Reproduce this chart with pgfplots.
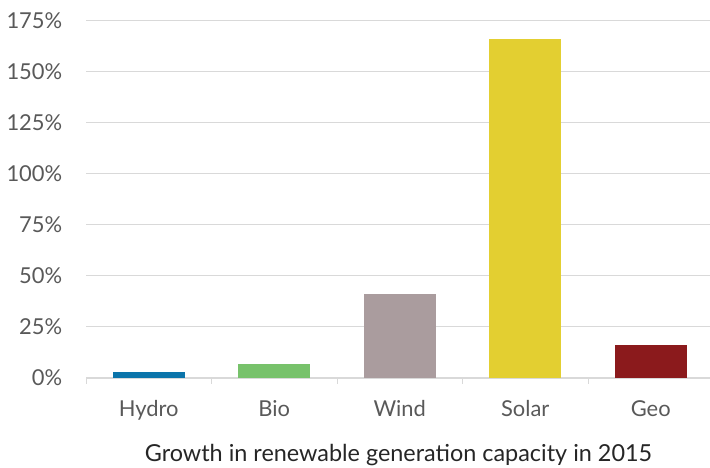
\documentclass[border=0pt]{standalone}
\usepackage{pgfplots}
\pgfplotsset{compat=1.18}
\usepackage{fontspec}
\setmainfont{Lato}
\definecolor{hydro}{HTML}{0B74AA}
\definecolor{bio}{HTML}{77C26B}
\definecolor{wind}{HTML}{AA9C9E}
\definecolor{solar}{HTML}{E3CF31}
\definecolor{geo}{HTML}{8B1A1C}
\definecolor{gridc}{HTML}{D9D9D9}
\definecolor{labc}{HTML}{595959}
\begin{document}
\begin{tikzpicture}[x=1bp,y=1bp]
\useasboundingbox (0,0) rectangle (710,468);
\begin{axis}[
  at={(86bp,90bp)}, anchor=south west,
  scale only axis, width=625bp, height=357.5bp,
  xmin=-0.5, xmax=4.48, ymin=0, ymax=175,
  axis x line*=bottom, axis y line*=left,
  y axis line style={draw=none},
  x axis line style={draw=gridc, line width=1.5bp},
  ytick={0,25,...,175},
  yticklabel={\pgfmathprintnumber{\tick}\%},
  /pgf/number format/assume math mode=true,
  ymajorgrids, major grid style={draw=gridc, line width=1bp},
  ytick style={draw=none},
  yticklabel style={font=\fontsize{22}{26}\selectfont, text=labc, xshift=-16bp},
  xtick={0,1,2,3,4},
  xticklabels={Hydro,Bio,Wind,Solar,Geo},
  xtick style={draw=none},
  minor xtick={-0.5,0.5,1.5,2.5,3.5,4.5},
  minor tick length=6bp,
  tick align=outside,
  minor x tick style={draw=gridc, line width=1bp},
  xticklabel style={font=\fontsize{22}{26}\selectfont, text=labc, yshift=-15bp},
  xlabel={Growth in renewable generation capacity in 2015},
  xlabel style={font=\fontsize{23.5}{28}\selectfont, text=black!85, yshift=-17bp},
  clip=false,
]
\addplot[ybar, bar width=72bp, fill=hydro, draw=none] coordinates {(0,3)};
\addplot[ybar, bar width=72bp, fill=bio, draw=none] coordinates {(1,7)};
\addplot[ybar, bar width=72bp, fill=wind, draw=none] coordinates {(2,41)};
\addplot[ybar, bar width=72bp, fill=solar, draw=none] coordinates {(3,166)};
\addplot[ybar, bar width=72bp, fill=geo, draw=none] coordinates {(4,16)};
\end{axis}
\end{tikzpicture}
\end{document}
